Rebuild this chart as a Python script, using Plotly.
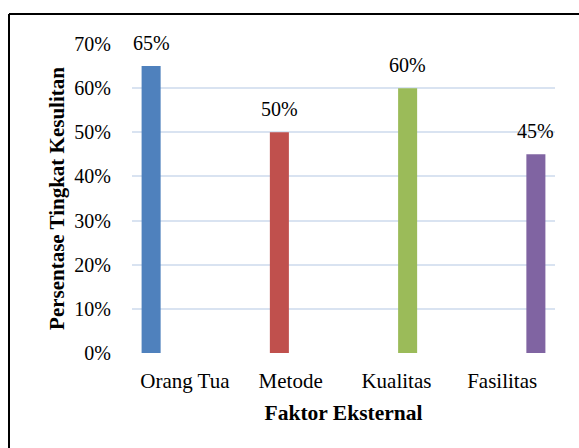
import plotly.graph_objects as go

categories = ["Orang Tua", "Metode", "Kualitas", "Fasilitas"]
values = [0.65, 0.50, 0.60, 0.45]
colors = ["#4f81bd", "#c0504d", "#9bbb59", "#8064a2"]
y_ticks = [0, 0.1, 0.2, 0.3, 0.4, 0.5, 0.6, 0.7]
y_tick_labels = ["0%", "10%", "20%", "30%", "40%", "50%", "60%", "70%"]

W, H = 579, 448
L, R, T, B = 132, 24, 44, 95
n = len(categories)
slot = 0.2128   # each series occupies one slot in a 4-slot cluster
bar_w = 0.18

fig = go.Figure()
for i, (cat, v, c) in enumerate(zip(categories, values, colors)):
    xpos = i + (i - (n - 1) / 2) * slot
    fig.add_trace(go.Bar(
        x=[xpos], y=[v], width=bar_w, name=cat,
        marker=dict(color=c, line=dict(width=0)),
        showlegend=False,
    ))
    fig.add_annotation(
        x=xpos, y=v, text=f"{round(v*100)}%", showarrow=False,
        yanchor="bottom", yshift=10,
        font=dict(family="Liberation Serif", size=20, color="black"),
    )

pw = W - L - R
ph = H - T - B
def px_x(p):
    return (p - L) / pw
def px_y(p):
    return (H - B - p) / ph

fig.add_shape(type="line", xref="paper", yref="paper",
              x0=px_x(9), x1=px_x(590), y0=px_y(14), y1=px_y(14),
              line=dict(color="black", width=2))
fig.add_shape(type="line", xref="paper", yref="paper",
              x0=px_x(9), x1=px_x(9), y0=px_y(14), y1=px_y(460),
              line=dict(color="black", width=2))

fig.update_layout(
    width=W, height=H,
    margin=dict(l=L, r=R, t=T, b=B),
    paper_bgcolor="white", plot_bgcolor="white",
    barmode="overlay",
    font=dict(family="Liberation Serif", size=20, color="black"),
    xaxis=dict(
        range=[-0.5, n - 0.5],
        tickmode="array", tickvals=list(range(n)), ticktext=categories,
        showgrid=False, zeroline=False, showline=False, ticks="",
        tickfont=dict(size=21), ticklabelstandoff=13,
        title=dict(text="<b>Faktor Eksternal</b>", font=dict(size=21.5), standoff=12),
    ),
    yaxis=dict(
        range=[0, 0.7],
        tickmode="array", tickvals=y_ticks, ticktext=y_tick_labels,
        showgrid=True, gridcolor="#d9e3f1", gridwidth=2,
        zeroline=False, showline=False, ticks="",
        tickfont=dict(size=20), ticklabelstandoff=20,
        title=dict(text="<b>Persentase Tingkat Kesulitan</b>", font=dict(size=21), standoff=3),
    ),
)

fig.write_html("out.html")
